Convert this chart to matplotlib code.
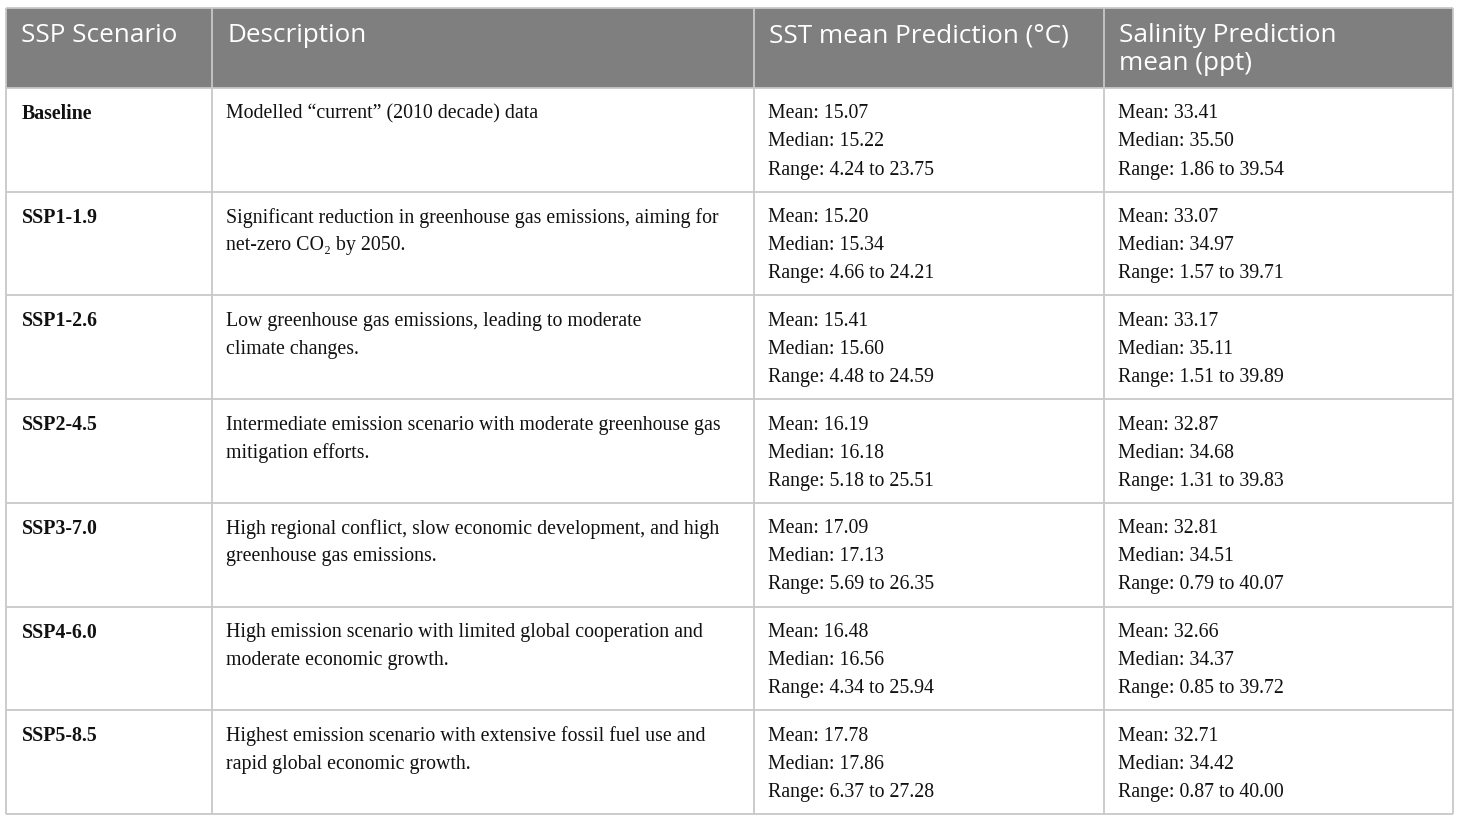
import matplotlib
matplotlib.use("Agg")
import matplotlib.pyplot as plt

scenarios = ["Baseline", "SSP1-1.9", "SSP1-2.6", "SSP2-4.5", "SSP3-7.0", "SSP4-6.0", "SSP5-8.5"]
descriptions = [
    ["Modelled \u201ccurrent\u201d (2010 decade) data"],
    ["Significant reduction in greenhouse gas emissions, aiming for", "net-zero CO\u2082 by 2050."],
    ["Low greenhouse gas emissions, leading to moderate", "climate changes."],
    ["Intermediate emission scenario with moderate greenhouse gas", "mitigation efforts."],
    ["High regional conflict, slow economic development, and high", "greenhouse gas emissions."],
    ["High emission scenario with limited global cooperation and", "moderate economic growth."],
    ["Highest emission scenario with extensive fossil fuel use and", "rapid global economic growth."],
]
sst_mean = ["15.07", "15.20", "15.41", "16.19", "17.09", "16.48", "17.78"]
sst_median = ["15.22", "15.34", "15.60", "16.18", "17.13", "16.56", "17.86"]
sst_min = ["4.24", "4.66", "4.48", "5.18", "5.69", "4.34", "6.37"]
sst_max = ["23.75", "24.21", "24.59", "25.51", "26.35", "25.94", "27.28"]
sal_mean = ["33.41", "33.07", "33.17", "32.87", "32.81", "32.66", "32.71"]
sal_median = ["35.50", "34.97", "35.11", "34.68", "34.51", "34.37", "34.42"]
sal_min = ["1.86", "1.57", "1.51", "1.31", "0.79", "0.85", "0.87"]
sal_max = ["39.54", "39.71", "39.89", "39.83", "40.07", "39.72", "40.00"]
headers = [["SSP Scenario"], ["Description"], ["SST mean Prediction (\u00b0C)"], ["Salinity Prediction", "mean (ppt)"]]

W, H = 1460, 822
fig = plt.figure(figsize=(W / 100, H / 100), dpi=100)
ax = fig.add_axes([0, 0, 1, 1])
ax.set_xlim(0, W)
ax.set_ylim(H, 0)
ax.axis("off")

col_x = [6, 212, 754, 1104, 1453]
top, head_bot = 8, 88
row_h = (814 - head_bot) / len(scenarios)
row_y = [head_bot + i * row_h for i in range(len(scenarios) + 1)]

header_col = "#7f7f7f"
line_col = "#c8c8c8"
ax.add_patch(plt.Rectangle((col_x[0], top), col_x[-1] - col_x[0], head_bot - top,
                           facecolor=header_col, edgecolor="none"))

# grid lines
for x in col_x:
    ax.plot([x, x], [top, row_y[-1]], color=line_col, lw=1.3, solid_capstyle="butt")
for y in [top] + row_y:
    ax.plot([col_x[0], col_x[-1]], [y, y], color=line_col, lw=1.3, solid_capstyle="butt")

pad = 15
hfont = dict(family=["Open Sans", "DejaVu Sans"], fontsize=18.8, color="white")
for c, lines in enumerate(headers):
    for j, t in enumerate(lines):
        ax.text(col_x[c] + pad, 36 + j * 28, t, va="center", ha="left", **hfont)

bfont = dict(family=["Liberation Serif", "DejaVu Serif"], fontsize=14.3, color="#111111")
line_gap = 28
for i in range(len(scenarios)):
    y0 = row_y[i] + 26
    ax.text(col_x[0] + 16, y0, scenarios[i], va="center", ha="left", fontweight="bold", **bfont)
    for j, t in enumerate(descriptions[i]):
        ax.text(col_x[1] + 14, y0 + j * line_gap, t, va="center", ha="left", **bfont)
    sst = [f"Mean: {sst_mean[i]}", f"Median: {sst_median[i]}", f"Range: {sst_min[i]} to {sst_max[i]}"]
    sal = [f"Mean: {sal_mean[i]}", f"Median: {sal_median[i]}", f"Range: {sal_min[i]} to {sal_max[i]}"]
    for j in range(3):
        ax.text(col_x[2] + 14, y0 + j * line_gap, sst[j], va="center", ha="left", **bfont)
        ax.text(col_x[3] + 14, y0 + j * line_gap, sal[j], va="center", ha="left", **bfont)

fig.savefig("out.png", dpi=100, facecolor="white")
